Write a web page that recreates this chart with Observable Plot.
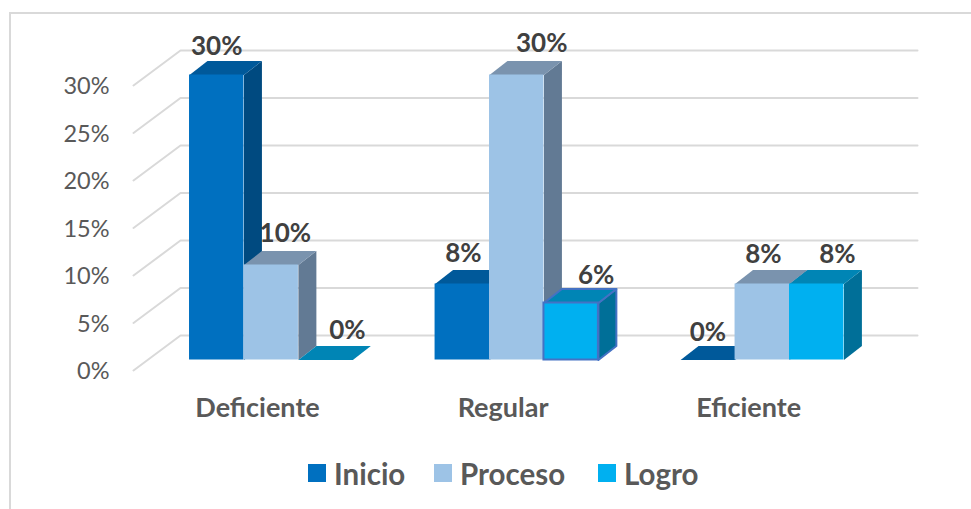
<!DOCTYPE html>
<html><head><meta charset="utf-8">
<script src="https://cdn.jsdelivr.net/npm/d3@7"></script>
<script src="https://cdn.jsdelivr.net/npm/@observablehq/plot@0.6"></script>
<style>
html,body{margin:0;padding:0;background:#fff;}
#wrap{position:relative;width:971px;height:509px;overflow:hidden;font-family:Lato,sans-serif;}
#frame{position:absolute;left:9px;top:12px;right:-5px;bottom:-5px;border:2px solid #d9d9d9;box-sizing:border-box;}
#chart{position:absolute;left:0;top:0;}
#legend{position:absolute;left:0;top:457px;width:971px;height:32px;}
.li{position:absolute;top:0;display:flex;align-items:center;height:32px;font-weight:700;font-size:29.5px;color:#595959;}
.sw{width:18px;height:18px;margin-right:8px;display:inline-block;}
</style></head><body>
<div id="wrap"><div id="frame"></div><div id="chart"></div><div id="legend"></div></div>
<script>
const categories = ["Deficiente","Regular","Eficiente"];
const seriesNames = ["Inicio","Proceso","Logro"];
const inicio  = [30, 8, 0];
const proceso = [10, 30, 8];
const logro   = [0, 6, 8];
const yTicks = [0,5,10,15,20,25,30];

const frontColors = ["#0070C0","#9DC3E6","#00B0F0"];
const topColors   = ["#00599A","#7A93AE","#0085B5"];
const sideColors  = ["#004A80","#627A94","#006F98"];
const labelShiftX = [[0,0.26,0.40],[0.02,0.46,0.46],[0,0.02,0.38]];
const labelDropPx = [[2,-1,1],[0,-1,3],[3,1,1]];

// scene geometry, in scale units (x: bar widths, y: percent)
const W = 14.4, wallX = 0.863, wallY = 3.68, barX = 0.279, barY = 1.105, depX = 0.33, depY = 1.47, step = 4.51, gap = 0.75;

const series = [inicio, proceso, logro];
const marks = [];

// gridlines: slanted side wall + back wall
const grid = yTicks.flatMap(v => [
  {t:v,x:0,y:v},{t:v,x:wallX,y:v+wallY},{t:v,x:W,y:v+wallY}
]);
marks.push(Plot.line(grid,{x:"x",y:"y",z:"t",stroke:"#d9d9d9",strokeWidth:2,curve:"linear"}));

categories.forEach((c,i)=>{
  series.forEach((vals,j)=>{
    const v = vals[i];
    const x0 = barX + step*i + gap + j, x1 = x0 + 1;
    const y0 = barY, y1 = barY + v;
    const outlined = (i===1 && j===2);
    const st = outlined ? {stroke:"#4472C4",strokeWidth:2} : {stroke:"none"};
    const side = [[x1,y0],[x1+depX,y0+depY],[x1+depX,y1+depY],[x1,y1]];
    const top  = [[x0,y1],[x0+depX,y1+depY],[x1+depX,y1+depY],[x1,y1]];
    const poly = (pts,fill)=>Plot.line([...pts,pts[0]],{x:d=>d[0],y:d=>d[1],fill,curve:"linear",...st});
    if (v>0) marks.push(poly(side,sideColors[j]));
    marks.push(poly(top,topColors[j]));
    if (v>0) marks.push(Plot.rect([{x0,x1,y0,y1}],{x1:"x0",x2:"x1",y1:"y0",y2:"y1",fill:frontColors[j],...st}));
  });
});

// data labels
const labels = categories.flatMap((c,i)=>series.map((vals,j)=>({
  x: barX + step*i + gap + j + 0.5 + labelShiftX[i][j],
  y: vals[i] + barY - labelDropPx[i][j]/9.5,
  t: vals[i] + "%"
})));
marks.push(Plot.text(labels,{x:"x",y:"y",text:"t",dy:-30,fontSize:26,fontWeight:700,fill:"#404040",fontFamily:"Lato"}));

// axes
marks.push(Plot.axisY(yTicks,{anchor:"left",tickSize:0,tickPadding:24,dy:1,tickFormat:d=>d+"%",fontSize:23.5,fill:"#595959",fontFamily:"Lato",label:null}));
const catTicks = categories.map((c,i)=>2.278+step*i);
marks.push(Plot.axisX(catTicks,{anchor:"bottom",tickSize:0,tickPadding:27,tickFormat:(d,i)=>categories[i],fontSize:27,fontWeight:700,fill:"#595959",fontFamily:"Lato",label:null}));

const plot = Plot.plot({
  width:971,height:450,
  marginLeft:133,marginRight:54,marginTop:85,marginBottom:80,
  style:{background:"transparent",overflow:"visible"},
  x:{domain:[0,W]},
  y:{domain:[0,30]},
  marks
});
document.getElementById("chart").appendChild(plot);

const lefts=[308,434,598];
seriesNames.forEach((n,j)=>{
  const el=document.createElement("div");el.className="li";el.style.left=lefts[j]+"px";
  el.innerHTML=`<span class="sw" style="background:${frontColors[j]}"></span>${n}`;
  document.getElementById("legend").appendChild(el);
});
</script></body></html>
